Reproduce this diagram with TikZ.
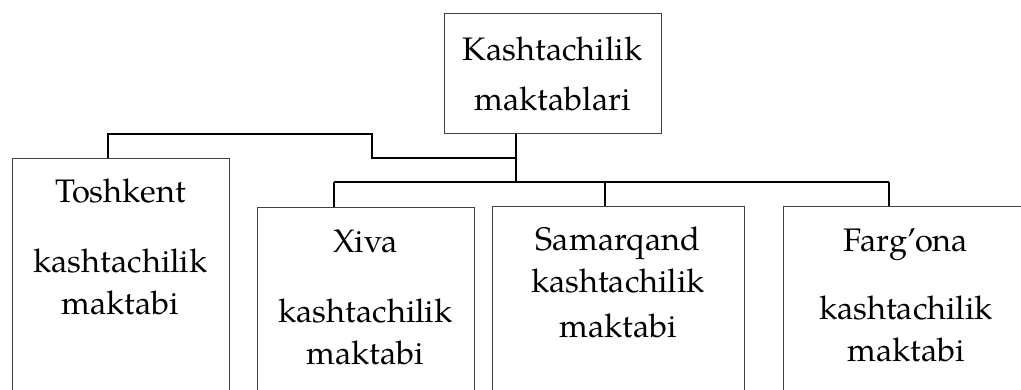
\documentclass[tikz,border=0pt]{standalone}
\usepackage{fontspec}
\setmainfont{texgyrepagella}[Extension=.otf, UprightFont=*-regular,
  BoldFont=*-bold, ItalicFont=*-italic, BoldItalicFont=*-bolditalic]
\usetikzlibrary{positioning}
\tikzset{
  head/.style={draw=black!75, line width=1pt, rectangle, inner sep=0pt,
               align=center, font=\fontsize{32.6}{42}\selectfont,
               minimum width=217pt, minimum height=120pt},
  school/.style={draw=black!75, line width=1pt, rectangle, inner sep=0pt,
                 minimum height=320pt, anchor=north},
  lbl/.style={align=center, inner sep=0pt, font=\fontsize{32.6}{42}\selectfont},
  link/.style={draw=black, line width=1.4pt},
}
\begin{document}
\begin{tikzpicture}[x=1pt,y=-1pt]
  \useasboundingbox (0,0) rectangle (1021,390);
  \clip (0,0) rectangle (1021,390);
  % top box
  \node[head] (root) at (552.5,74) {Kashtachilik\\[8pt]maktablari};
  % schools
  \node[school, minimum width=217pt] (tosh) at (120.5,158) {};
  \node[lbl, below=14.6pt of tosh.north] (toshtxt)
    {\strut Toshkent\\[28pt]kashtachilik\\maktabi};
  \node[school, minimum width=217pt] (xiva) at (365.5,207) {};
  \node[lbl, below=15.6pt of xiva.north] (xivatxt)
    {\strut Xiva\\[28pt]kashtachilik\\maktabi};
  \node[school, minimum width=252pt] (sam) at (618,206) {};
  \node[lbl, below=14.6pt of sam.north] (samtxt)
    {\strut Samarqand\\kashtachilik\\[3pt]maktabi};
  \node[school, minimum width=246pt] (farg) at (906,206) {};
  \node[lbl, below=15.6pt of farg.north] (fargtxt)
    {\strut Farg’ona\\[26pt]kashtachilik\\maktabi};
  % connectors
  \coordinate (hub) at (516,182);
  \coordinate (bend) at (372,134);
  \coordinate (tj) at (516,158);
  \coordinate (dt) at (108,158);
  \coordinate (dx) at (334,182);
  \coordinate (ds) at (605,182);
  \coordinate (df) at (889,182);
  \draw[link] (root.south -| hub) -- (hub);
  \draw[link] (dt |- tosh.north) |- (bend) |- (tj);
  \draw[link] (dx) -- (df);
  \draw[link] (dx) -- (dx |- xiva.north);
  \draw[link] (ds) -- (ds |- sam.north);
  \draw[link] (df) -- (df |- farg.north);
\end{tikzpicture}
\end{document}
